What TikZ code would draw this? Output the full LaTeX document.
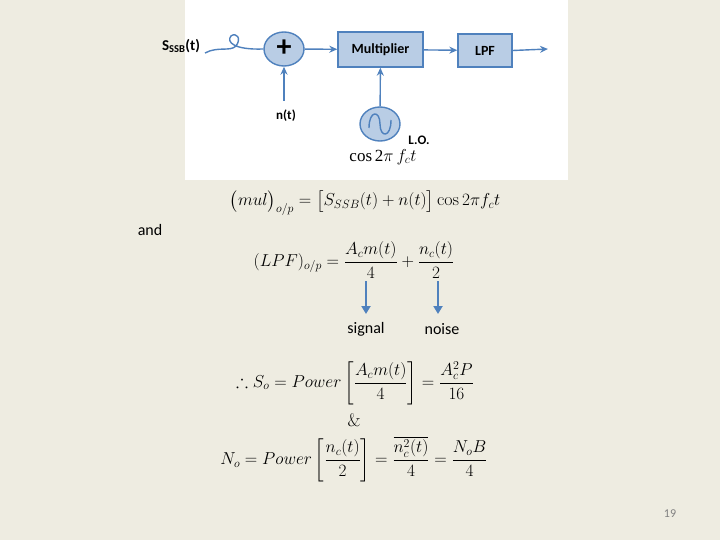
\documentclass[tikz,border=0pt]{standalone}
\usepackage{amsmath,amssymb}
\usepackage{fontspec}
\newfontfamily\calfont{Carlito}
\newfontfamily\tmsfont{Liberation Serif}
\usetikzlibrary{arrows.meta,shapes.geometric}
\definecolor{bg}{HTML}{EEECE1}
\definecolor{bfill}{HTML}{B9CDE5}
\definecolor{bline}{HTML}{4F81BD}
\begin{document}
\begin{tikzpicture}[x=1pt,y=-1pt,
  blk/.style={draw=bline,fill=bfill,line width=1.4pt,font=\calfont\bfseries\fontsize{14}{15}\selectfont},
  circ/.style={draw=bline,fill=bfill,line width=1.4pt,ellipse,minimum width=40pt,minimum height=34pt,inner sep=0pt},
  con/.style={draw=bline,line width=1.4pt,-{Stealth[length=8pt,width=7pt]}},
  big/.style={draw=bline,line width=2.2pt,-{Triangle[length=8pt,width=9pt]}},
  eq/.style={font=\fontsize{18}{22}\selectfont},
  lab/.style={font=\calfont\fontsize{16}{18}\selectfont}]
\fill[bg] (0,0) rectangle (720,540);
\useasboundingbox (0,0) rectangle (720,540);
\fill[white] (185,0) rectangle (568,180);
\node[circ] (sum) at (284,49) {\calfont\bfseries\fontsize{30}{30}\selectfont\raisebox{1pt}{+}};
\node[blk,minimum width=85pt,minimum height=35pt] (mul) at (380.5,49.5) {Multiplier};
\node[blk,minimum width=54pt,minimum height=33pt] (lpf) at (485,50.5) {LPF};
\node[circ] (lo) at (380,124) {};
\draw[bline,line width=1.4pt] (369,128) .. controls (369,110) and (380,110) .. (380,124) .. controls (380,138) and (391,138) .. (391,120);
\coordinate (out) at (548,49);
\coordinate (nin) at (284,101);
\coordinate (win) at (205,53);
\draw[con] (sum) -- (mul);
\draw[con] (mul) -- (lpf);
\draw[con] (lpf.east) -- (out);
\draw[con] (nin) -- (sum);
\draw[con] (lo) -- (mul);
\draw[bline,line width=1.4pt] (win) .. controls (218,46) and (230,52) .. (236,46) .. controls (242,38) and (236,32) .. (231,36) .. controls (226,42) and (234,50) .. (sum.west);
\node[font=\calfont\bfseries\fontsize{15}{16}\selectfont] (ssb) at (181,46) {S\textsubscript{SSB}(t)};
\node[font=\calfont\bfseries\fontsize{13}{14}\selectfont] (nt) at (286,116) {n(t)};
\node[font=\calfont\bfseries\fontsize{13}{14}\selectfont] (lol) at (419,140) {L.O.};
\node[font=\tmsfont\fontsize{17}{18}\selectfont] (cos) at (383,157) {cos\,2$\pi\,f_c t$};
\node[eq] (e1) at (365,203) {$\big(mul\big)_{o/p}=\big[S_{SSB}(t)+n(t)\big]\cos 2\pi f_c t$};
\node[lab] (and) at (150,230) {and};
\node[eq] (e2) at (354,260) {$(LPF)_{o/p}=\dfrac{A_c m(t)}{4}+\dfrac{n_c(t)}{2}$};
\node[lab] (sig) at (366,329) {signal};
\node[lab] (noi) at (442,329) {noise};
\coordinate (a1) at (366,281); \coordinate (a2) at (438,281);
\coordinate (a1e) at (366,314); \coordinate (a2e) at (438,314);
\draw[big] (a1) -- (a1e);
\draw[big] (a2) -- (a2e);
\node[eq] (e3) at (355,383) {$\therefore S_o=Power\left[\dfrac{A_c m(t)}{4}\right]=\dfrac{A_c^2P}{16}$};
\node[eq] (amp) at (354,420) {\&};
\node[eq] (e4) at (354,459) {$N_o=Power\left[\dfrac{n_c(t)}{2}\right]=\dfrac{\overline{n_c^2(t)}}{4}=\dfrac{N_oB}{4}$};
\node[font=\calfont\fontsize{12}{13}\selectfont,text=gray] (pg) at (670,514) {19};
\end{tikzpicture}
\end{document}
